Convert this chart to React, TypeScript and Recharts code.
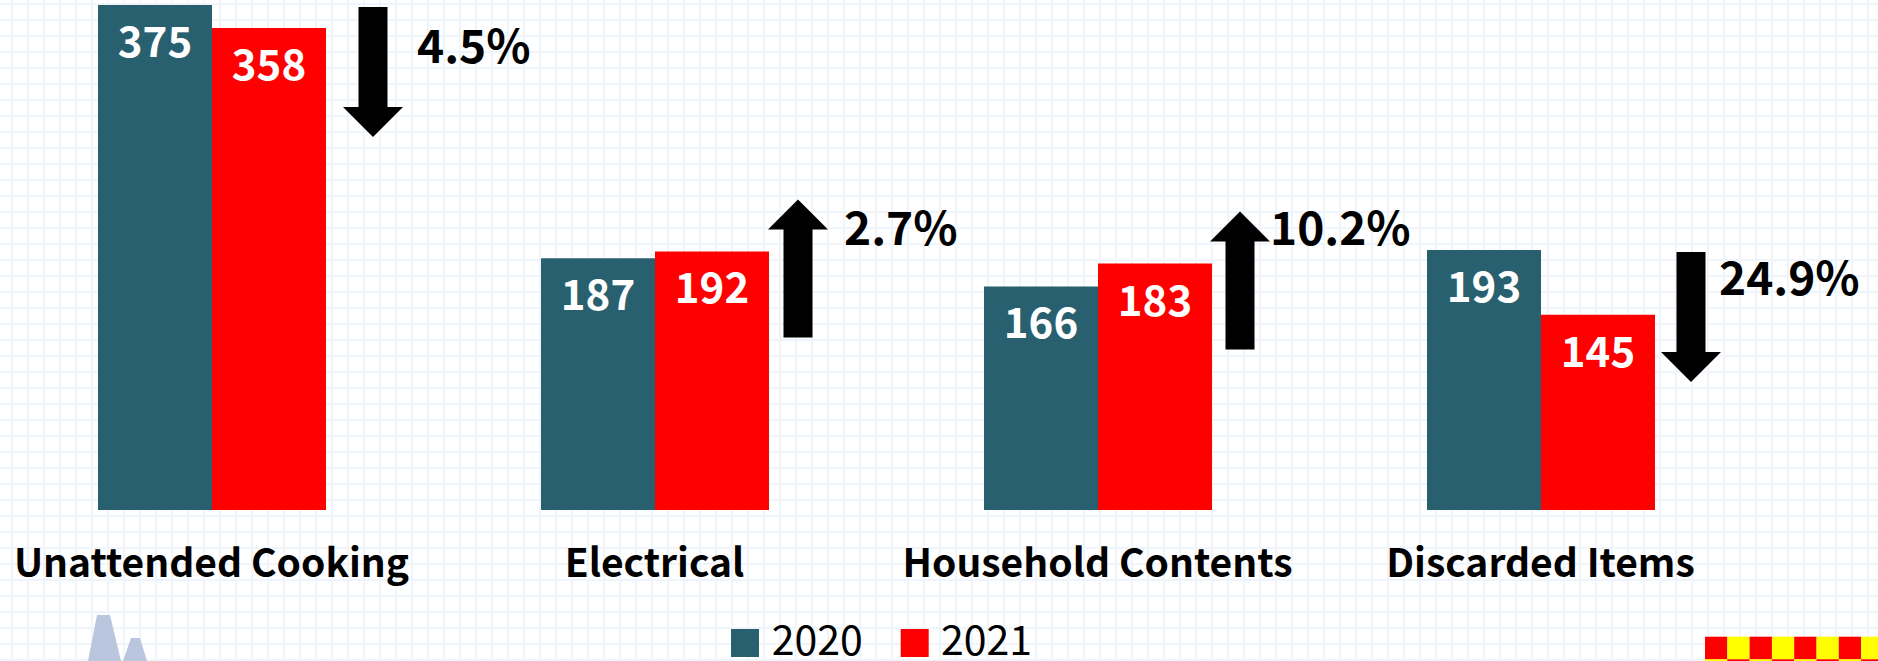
import React from 'react';
import { Bar, BarChart, LabelList, XAxis, YAxis } from 'recharts';

const CATEGORIES = ['Unattended Cooking', 'Electrical', 'Household Contents', 'Discarded Items'];
const VALUES_2020 = [375, 187, 166, 193];
const VALUES_2021 = [358, 192, 183, 145];
const CHANGE_LABELS = ['4.5%', '2.7%', '10.2%', '24.9%'];

const SERIES = [
  { key: 'y2020', name: '2020', color: '#29606f' },
  { key: 'y2021', name: '2021', color: '#ff0000' },
];

// hand nudges for the arrow callouts, px from the 2021 bar's right edge
const ARROW_NUDGE = [
  { dx: 47, textDx: 44, textDy: 56 },
  { dx: 29, textDx: 46, textDy: 46 },
  { dx: 28, textDx: 30, textDy: 33 },
  { dx: 36, textDx: 28, textDy: 43 },
];

const FONT = '"Noto Sans CJK JP", "Noto Sans", sans-serif';
const W = 1878;
const H = 661;

const data = CATEGORIES.map((name, i) => ({
  name,
  y2020: VALUES_2020[i],
  y2021: VALUES_2021[i],
}));

function box(props: any) {
  const vb = props.viewBox && props.viewBox.width != null ? props.viewBox : props;
  return { x: +vb.x, y: +vb.y, width: +vb.width, height: +vb.height };
}

function ValueLabel(props: any) {
  const { x, y, width } = box(props);
  return (
    <text x={x + width / 2} y={y + 52} textAnchor="middle" fill="#fff" fontSize={42} fontWeight={700}>
      {props.value}
    </text>
  );
}

function ChangeCallout(props: any) {
  const { x, y, width, height } = box(props);
  const value = Number(props.value);
  const index = props.index ?? VALUES_2021.indexOf(value);
  const prev = VALUES_2020[index];
  const bottom = y + height;
  const prevTop = bottom - (prev * height) / value;
  const top = Math.min(y, prevTop);
  const down = value < prev;
  const n = ARROW_NUDGE[index];
  const cx = x + width + n.dx;
  const sw = 14.5;
  const hw = 30;
  const hl = 30;
  let pts: number[][];
  let start: number;
  if (down) {
    const t = top + 2;
    const tip = t + 130;
    pts = [[cx - sw, t], [cx + sw, t], [cx + sw, tip - hl], [cx + hw, tip - hl], [cx, tip], [cx - hw, tip - hl], [cx - sw, tip - hl]];
    start = t;
  } else {
    const tip = top - 52;
    const end = tip + 138;
    pts = [[cx, tip], [cx + hw, tip + hl], [cx + sw, tip + hl], [cx + sw, end], [cx - sw, end], [cx - sw, tip + hl], [cx - hw, tip + hl]];
    start = tip;
  }
  return (
    <g>
      <polygon points={pts.map((p) => p.join(',')).join(' ')} fill="#000" />
      <text x={cx + n.textDx} y={start + n.textDy} fontSize={46} fontWeight={700} fill="#000">
        {CHANGE_LABELS[index]}
      </text>
    </g>
  );
}

function Overlay() {
  const checker = [];
  for (let c = 0; c < 8; c++) {
    for (let r = 0; r < 2; r++) {
      checker.push(
        <rect
          key={`${c}-${r}`}
          x={1705 + c * 22.3}
          y={636.7 + r * 22.6}
          width={22.4}
          height={22.7}
          fill={(c + r) % 2 === 0 ? '#ff0000' : '#ffff00'}
        />,
      );
    }
  }
  return (
    <svg width={W} height={H} style={{ position: 'absolute', left: 0, top: 0, pointerEvents: 'none' }}>
      <polygon points="88,661 97,615 110,615 121,661" fill="#bac6de" />
      <polygon points="123,661 131,638 140,638 147,661" fill="#bac6de" />
      {checker}
      {SERIES.map((s, i) => (
        <g key={s.key}>
          <rect x={731 + i * 169.7} y={629} width={28} height={28} fill={s.color} />
          <text x={771.7 + i * 169.3} y={655} fontSize={41} fill="#000">
            {s.name}
          </text>
        </g>
      ))}
    </svg>
  );
}

export default function App() {
  return (
    <div
      style={{
        position: 'absolute',
        left: 0,
        top: 0,
        width: W,
        height: H,
        overflow: 'hidden',
        fontFamily: FONT,
        backgroundColor: '#fff',
        backgroundImage:
          'linear-gradient(to right, #f0f5fc 2px, transparent 2px), linear-gradient(to bottom, #f0f5fc 2px, transparent 2px)',
        backgroundSize: '16px 16px',
        backgroundPosition: '11px 3px',
      }}
    >
      <div style={{ position: 'absolute', left: -10, top: 0 }}>
        <BarChart
          width={W + 10}
          height={H}
          data={data}
          margin={{ top: 5, right: 116, bottom: 0, left: 0 }}
          barGap={0}
          barSize={114}
        >
          <XAxis
            dataKey="name"
            height={151}
            axisLine={false}
            tickLine={false}
            tickMargin={33}
            interval={0}
            tick={{ fontSize: 39, fontWeight: 700, fill: '#000' }}
          />
          <YAxis hide domain={[0, 375]} />
          <Bar dataKey="y2020" name="2020" fill={SERIES[0].color} isAnimationActive={false}>
            <LabelList dataKey="y2020" content={ValueLabel} />
          </Bar>
          <Bar dataKey="y2021" name="2021" fill={SERIES[1].color} isAnimationActive={false}>
            <LabelList dataKey="y2021" content={ValueLabel} />
            <LabelList dataKey="y2021" content={ChangeCallout} />
          </Bar>
        </BarChart>
      </div>
      <Overlay />
    </div>
  );
}
